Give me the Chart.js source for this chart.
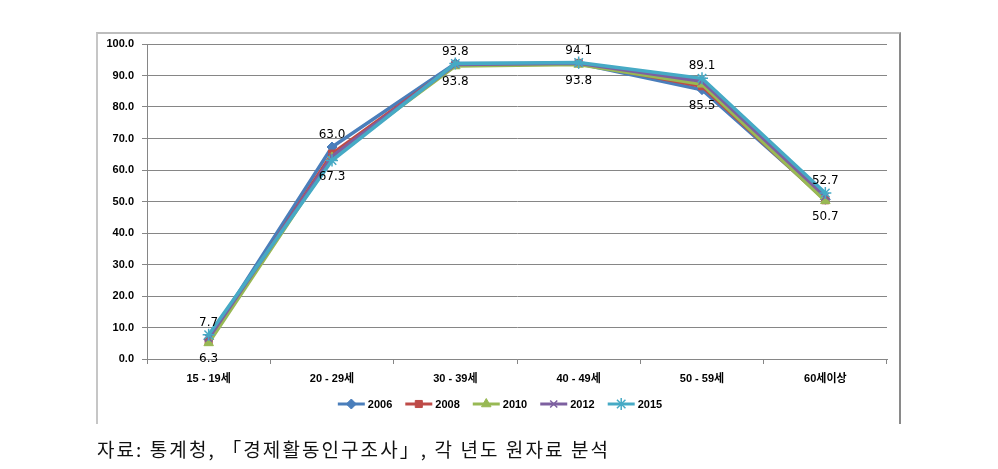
<!DOCTYPE html>
<html>
<head>
<meta charset="utf-8">
<script src="https://cdn.jsdelivr.net/npm/chart.js@4"></script>
<style>
  html, body { margin:0; padding:0; background:#fff; }
  body { width:998px; height:469px; position:relative; overflow:hidden; }
  #frame { position:absolute; left:96px; top:32px; width:805px; height:392px;
           border-left:2px solid #c6c6c6; border-top:2px solid #bdbdbd; border-right:2px solid #8a8a8a; box-sizing:border-box; }
  #wrap { position:absolute; left:0; top:0; width:998px; height:469px; }
  #note { position:absolute; left:97px; top:435px; font-family:"Noto Sans CJK KR", sans-serif; font-size:19px;
          color:#111; white-space:nowrap; line-height:27px; }
</style>
</head>
<body>
<div id="frame"></div>
<div id="wrap"><canvas id="c" width="998" height="469"></canvas></div>
<div id="note">자료: 통계청, 「경제활동인구조사」, 각 년도 원자료 분석</div>
<script>
const categories = ["15 - 19세", "20 - 29세", "30 - 39세", "40 - 49세", "50 - 59세", "60세이상"];
const seriesNames = ["2006", "2008", "2010", "2012", "2015"];
const v2006 = [6.3, 67.3, 93.8, 93.8, 85.5, 50.7];
const v2008 = [5.6, 65.2, 93.4, 94.0, 86.6, 50.4];
const v2010 = [5.1, 64.0, 93.0, 93.5, 87.2, 50.2];
const v2012 = [6.6, 64.3, 93.5, 93.9, 88.2, 51.6];
const v2015 = [7.7, 63.0, 93.8, 94.1, 89.1, 52.7];
const yTicks = [0, 10, 20, 30, 40, 50, 60, 70, 80, 90, 100];

const colors = ["#4a7ebb", "#be4b48", "#98b954", "#7d60a0", "#46aac5"];
const styles = ["rectRot", "rect", "triangle", "crossRot", "star"];
const radii = [5, 5, 5.5, 5, 6];
const values = [v2006, v2008, v2010, v2012, v2015];

const datasets = seriesNames.map((n, i) => ({
  label: n,
  data: values[i],
  borderColor: colors[i],
  backgroundColor: colors[i],
  borderWidth: 3.5,
  pointStyle: styles[i],
  pointRadius: radii[i],
  pointBorderWidth: (styles[i] === "crossRot" || styles[i] === "star") ? 1.5 : 1,
  pointBorderColor: colors[i],
  pointBackgroundColor: colors[i],
  tension: 0,
  order: seriesNames.length - i
}));

const labelPlugin = {
  id: "labels",
  afterDatasetsDraw(chart) {
    const ctx = chart.ctx;
    const y = chart.scales.y, x = chart.scales.x;
    ctx.save();
    ctx.font = "12px 'DejaVu Sans', sans-serif";
    ctx.fillStyle = "#000";
    ctx.textAlign = "center";
    ctx.textBaseline = "middle";
    categories.forEach((c, j) => {
      const vals = values.map(a => a[j]);
      const top = y.getPixelForValue(Math.max(...vals));
      const bot = y.getPixelForValue(Math.min(...vals));
      const px = x.getPixelForValue(j);
      ctx.fillText(v2015[j].toFixed(1), px, top - 12);
      ctx.fillText(v2006[j].toFixed(1), px, bot + 16);
    });
    ctx.restore();
  }
};

const legendPlugin = {
  id: "customLegend",
  afterDraw(chart) {
    const ctx = chart.ctx;
    ctx.save();
    ctx.font = "bold 11px 'Liberation Sans', sans-serif";
    const lineLen = 27, gapText = 3, gapItem = 13;
    const widths = seriesNames.map(n => lineLen + gapText + ctx.measureText(n).width);
    const total = widths.reduce((a, b) => a + b, 0) + gapItem * (widths.length - 1);
    let cx = 500 - total / 2;
    const cy = 404;
    seriesNames.forEach((n, i) => {
      ctx.strokeStyle = colors[i];
      ctx.lineWidth = 3;
      ctx.beginPath(); ctx.moveTo(cx, cy); ctx.lineTo(cx + lineLen, cy); ctx.stroke();
      ctx.fillStyle = colors[i];
      ctx.strokeStyle = colors[i];
      ctx.lineWidth = datasets[i].pointBorderWidth;
      Chart.helpers.drawPoint(ctx, { pointStyle: styles[i], radius: radii[i], rotation: 0, borderWidth: datasets[i].pointBorderWidth }, cx + lineLen / 2, cy);
      ctx.fillStyle = "#000";
      ctx.textAlign = "left"; ctx.textBaseline = "middle";
      ctx.fillText(n, cx + lineLen + gapText, cy + 1);
      cx += widths[i] + gapItem;
    });
    ctx.restore();
  }
};

new Chart(document.getElementById("c"), {
  type: "line",
  data: { labels: categories, datasets },
  options: {
    responsive: false,
    animation: false,
    events: [],
    layout: { padding: { left: 0, top: 44, right: 111, bottom: 0 } },
    plugins: { legend: { display: false }, tooltip: { enabled: false } },
    scales: {
      x: {
        offset: true,
        grid: { offset: true, drawOnChartArea: false, drawTicks: true, tickLength: 5, color: "#868686" },
        border: { color: "#868686", width: 1 },
        ticks: { color: "#000", font: { family: "'Liberation Sans', 'Noto Sans CJK KR', sans-serif", size: 11, weight: "bold" }, padding: 8, maxRotation: 0 },
        afterFit(s) { s.height = 110; }
      },
      y: {
        min: 0, max: 100,
        afterBuildTicks(s) { s.ticks = yTicks.map(v => ({ value: v })); },
        grid: { color: "#868686", tickLength: 5, drawTicks: true },
        border: { color: "#868686", width: 1 },
        ticks: { color: "#000", font: { family: "'Liberation Sans', sans-serif", size: 11, weight: "bold" }, padding: 8,
                 callback: v => Number(v).toFixed(1) },
        afterFit(s) { s.width = 147; }
      }
    }
  },
  plugins: [labelPlugin, legendPlugin]
});

// fit footnote width to reference span
(function () {
  const note = document.getElementById("note");
  const target = 513;
  const w = note.getBoundingClientRect().width;
  const chars = note.textContent.length;
  note.style.letterSpacing = ((target - w) / chars) + "px";
})();
</script>
</body>
</html>
